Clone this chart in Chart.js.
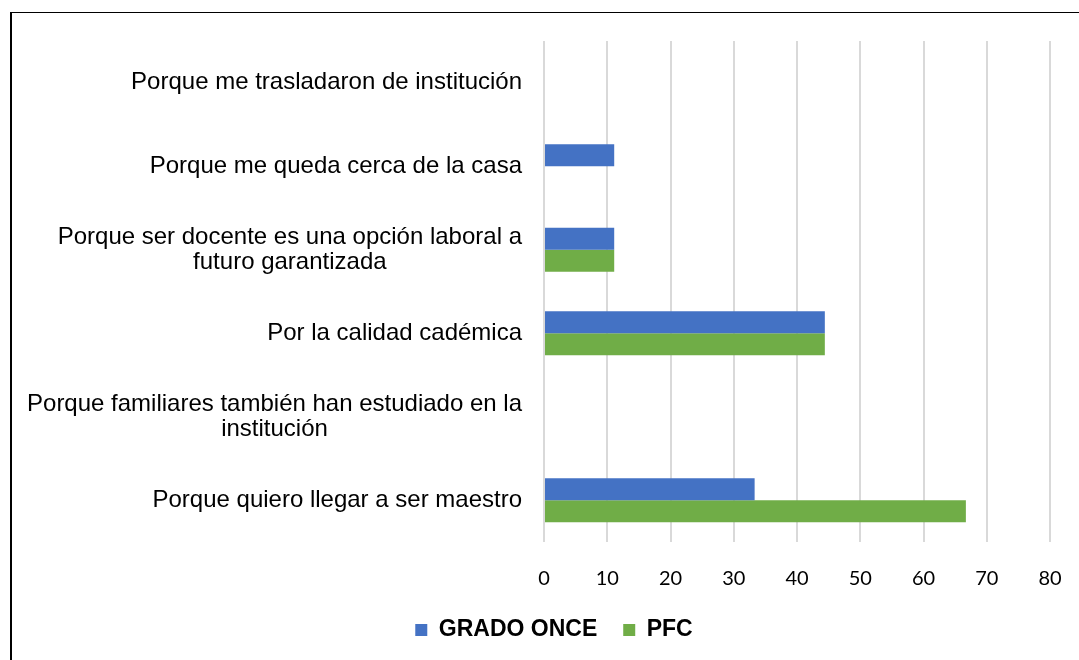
<!DOCTYPE html>
<html>
<head>
<meta charset="utf-8">
<script src="https://cdn.jsdelivr.net/npm/chart.js@4/dist/chart.umd.min.js"></script>
<style>
  html, body { margin: 0; padding: 0; background: #fff; }
  #wrap { position: relative; width: 1079px; height: 660px; overflow: hidden; }
  #frame { position: absolute; left: 10px; top: 12px; right: -5px; bottom: -5px;
           border-top: 1px solid #000; border-left: 2px solid #000; pointer-events: none; }
  canvas { position: absolute; left: 0; top: 0; }
</style>
</head>
<body>
<div id="wrap">
  <canvas id="c" width="1079" height="660"></canvas>
  <div id="frame"></div>
</div>
<script>
// ---- data ----
const categories = [
  ["Porque me trasladaron de institución"],
  ["Porque me queda cerca de la casa"],
  ["Porque ser docente es una opción laboral a", "futuro garantizada"],
  ["Por la calidad cadémica"],
  ["Porque familiares también han estudiado en la", "institución"],
  ["Porque quiero llegar a ser maestro"]
];
const seriesNames = ["GRADO ONCE", "PFC"];
const gradoOnce = [0, 11.1, 11.1, 44.4, 0, 33.3];
const pfc = [0, 0, 11.1, 44.4, 0, 66.7];
const xMin = 0, xMax = 80, xStep = 10;

// draws category labels: block right-aligned to the axis, lines centred within the block
const catLabelPlugin = {
  id: 'catLabels',
  afterDraw(chart) {
    const ys = chart.scales.y, xs = chart.scales.x, ctx = chart.ctx;
    const font = '24px "Liberation Sans", Arial, sans-serif';
    const lh = 25;
    const right = xs.left - 22;
    ctx.save();
    ctx.font = font;
    ctx.fillStyle = '#000';
    ctx.textAlign = 'center';
    ctx.textBaseline = 'middle';
    categories.forEach((lines, i) => {
      const yc = ys.getPixelForTick(i);
      const w = Math.max(...lines.map(l => ctx.measureText(l).width));
      const cx = right - w / 2;
      const y0 = yc - (lines.length - 1) * lh / 2;
      lines.forEach((l, k) => ctx.fillText(l, cx, y0 + k * lh));
    });
    ctx.restore();
  }
};

new Chart(document.getElementById('c'), {
  type: 'bar',
  data: {
    labels: categories,
    datasets: [
      { label: seriesNames[0], data: gradoOnce, backgroundColor: '#4472C4',
        categoryPercentage: 0.526, barPercentage: 1.0 },
      { label: seriesNames[1], data: pfc, backgroundColor: '#70AD47',
        categoryPercentage: 0.526, barPercentage: 1.0 }
    ]
  },
  options: {
    indexAxis: 'y',
    responsive: false,
    animation: false,
    devicePixelRatio: 1,
    layout: { padding: { top: 41, right: 29, bottom: 8.5, left: 58 } },
    scales: {
      x: {
        min: xMin, max: xMax,
        ticks: { stepSize: xStep, padding: 25, color: '#000',
                 font: { family: 'Lato, "Open Sans", sans-serif', size: 20 } },
        grid: { color: '#d9d9d9', lineWidth: 2, drawTicks: false },
        border: { display: false },
        afterFit(s) { s.height = 50.5; s.paddingLeft = 0; s.paddingRight = 0; }
      },
      y: {
        ticks: { display: false },
        grid: { display: false, drawTicks: false },
        border: { display: false },
        afterFit(s) { s.width = 486; }
      }
    },
    plugins: {
      legend: {
        position: 'bottom',
        labels: { boxWidth: 12, boxHeight: 12, padding: 26, color: '#000',
                  font: { family: '"Liberation Sans", Arial, sans-serif', size: 23, weight: 'bold' } }
      },
      tooltip: { enabled: false }
    }
  },
  plugins: [catLabelPlugin]
});
</script>
</body>
</html>
